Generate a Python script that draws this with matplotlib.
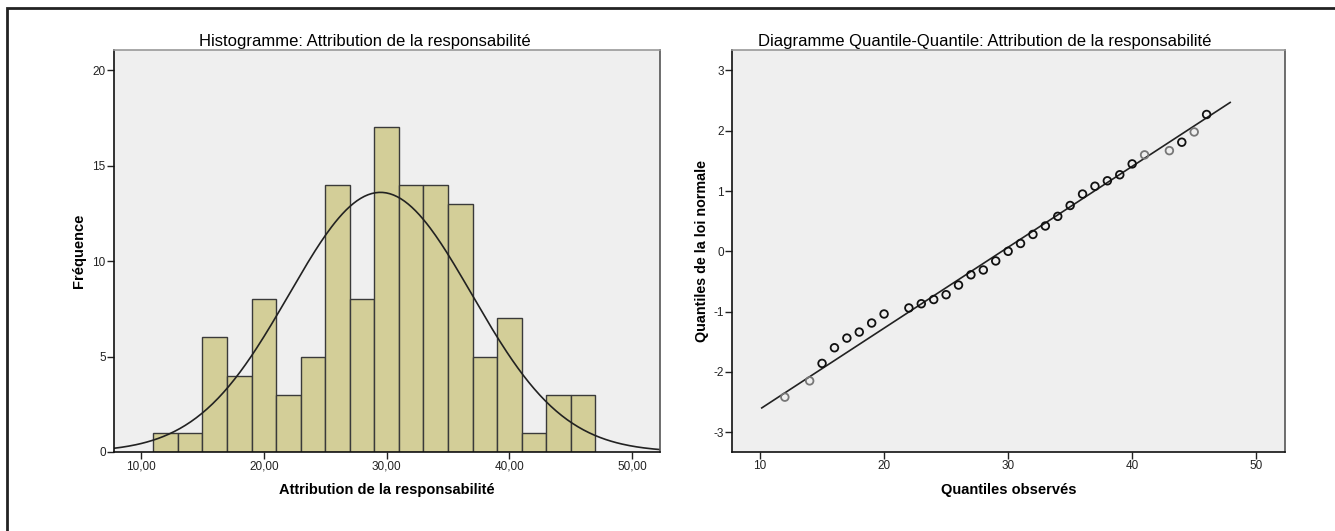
import numpy as np
import matplotlib
matplotlib.use('Agg')
import matplotlib.pyplot as plt
from matplotlib import font_manager
from matplotlib.patches import Rectangle

# histogram data (bins of width 2, from 11 to 47)
bin_edges = [11, 13, 15, 17, 19, 21, 23, 25, 27, 29, 31, 33, 35, 37, 39, 41, 43, 45, 47]
counts = [1, 1, 6, 4, 8, 3, 5, 14, 8, 17, 14, 14, 13, 5, 7, 1, 3, 3]
mean_val = 29.5
sd_val = 7.45

# Q-Q data
obs_q = [12, 14, 15, 16, 17, 18, 19, 20, 22, 23, 24, 25, 26, 27, 28, 29,
         30, 31, 32, 33, 34, 35, 36, 37, 38, 39, 40, 41, 43, 44, 45, 46]
norm_q = [-2.42, -2.15, -1.86, -1.60, -1.44, -1.34, -1.19, -1.04, -0.94, -0.87,
          -0.80, -0.72, -0.56, -0.39, -0.31, -0.16, 0.0, 0.13, 0.28, 0.42,
          0.58, 0.76, 0.95, 1.08, 1.17, 1.27, 1.45, 1.60, 1.67, 1.81, 1.98, 2.27]
light_pts = [12, 14, 41, 43, 45]
line_x = [10.14, 47.9]

hist_xticks = [10, 20, 30, 40, 50]
hist_xlabels = ['10,00', '20,00', '30,00', '40,00', '50,00']
hist_yticks = [0, 5, 10, 15, 20]
qq_xticks = [10, 20, 30, 40, 50]
qq_yticks = [-3, -2, -1, 0, 1, 2, 3]


def pick(name):
    try:
        font_manager.findfont(name, fallback_to_default=False)
        return [name, 'Liberation Sans', 'DejaVu Sans']
    except Exception:
        return ['Liberation Sans', 'DejaVu Sans']

narrow = pick('Liberation Sans Narrow')
wide = ['Liberation Sans', 'DejaVu Sans']

bg = '#efefef'
bar_col = '#d3ce98'

fig = plt.figure(figsize=(13.35, 5.31), dpi=100)

# outer frame
fig.patches.append(Rectangle((7 / 1335, -0.1), 1.1, 1 - 8 / 531 + 0.1,
                             transform=fig.transFigure, fill=False,
                             edgecolor='#222222', linewidth=2))

ax1 = fig.add_axes([114 / 1335, 79 / 531, 546 / 1335, 402 / 531])
ax2 = fig.add_axes([732 / 1335, 79 / 531, 553 / 1335, 402 / 531])

for ax in (ax1, ax2):
    ax.set_facecolor(bg)
    ax.spines['left'].set_color('#111111')
    ax.spines['bottom'].set_color('#111111')
    ax.spines['top'].set_color('#999999')
    ax.spines['right'].set_color('#555555')
    for s in ax.spines.values():
        s.set_linewidth(1.2)
    ax.tick_params(direction='out', length=5, width=1, colors='#222222',
                   labelsize=8.5, pad=1)

# histogram
widths = np.diff(bin_edges)
ax1.bar(bin_edges[:-1], counts, width=widths, align='edge', color=bar_col,
        edgecolor='#3a3a3a', linewidth=1.0)
xs = np.linspace(7.8, 52.3, 300)
dens = sum(counts) * 2 / (sd_val * np.sqrt(2 * np.pi)) * \
    np.exp(-0.5 * ((xs - mean_val) / sd_val) ** 2)
ax1.plot(xs, dens, color='#222222', linewidth=1.2)
ax1.set_xlim(7.8, 52.27)
ax1.set_ylim(0, 21.06)
ax1.set_xticks(hist_xticks)
ax1.set_xticklabels(hist_xlabels, family=narrow, fontsize=8.5)
ax1.set_yticks(hist_yticks)
ax1.set_yticklabels([str(t) for t in hist_yticks], family=narrow, fontsize=8.5)
ax1.set_title('Histogramme: Attribution de la responsabilité', x=0.46,
              pad=3, fontsize=12, family=narrow)
ax1.set_xlabel('Attribution de la responsabilité', fontsize=10.5,
               fontweight='bold', family=narrow, labelpad=8)
ax1.set_ylabel('Fréquence', fontsize=10.5, fontweight='bold', family=wide,
               labelpad=4.5)

# Q-Q plot
slope = 1 / sd_val
ax2.plot(line_x, [(v - mean_val) * slope for v in line_x], color='#222222',
         linewidth=1.2)
ecols = ['#777777' if x in light_pts else '#111111' for x in obs_q]
ax2.scatter(obs_q, norm_q, s=30, facecolors='none', edgecolors=ecols,
            linewidths=1.3, zorder=3)
ax2.set_xlim(7.74, 52.32)
ax2.set_ylim(-3.33, 3.34)
ax2.set_xticks(qq_xticks)
ax2.set_xticklabels([str(t) for t in qq_xticks], family=narrow, fontsize=8.5)
ax2.set_yticks(qq_yticks)
ax2.set_yticklabels([str(t) for t in qq_yticks], family=narrow, fontsize=8.5)
ax2.set_title('Diagramme Quantile-Quantile: Attribution de la responsabilité',
              x=0.457, pad=3, fontsize=12, family=narrow)
ax2.set_xlabel('Quantiles observés', fontsize=10.5, fontweight='bold',
               family=wide, labelpad=8)
ax2.set_ylabel('Quantiles de la loi normale', fontsize=10.3, fontweight='bold',
               family=wide, labelpad=3)

fig.savefig('out.png', dpi=100)
